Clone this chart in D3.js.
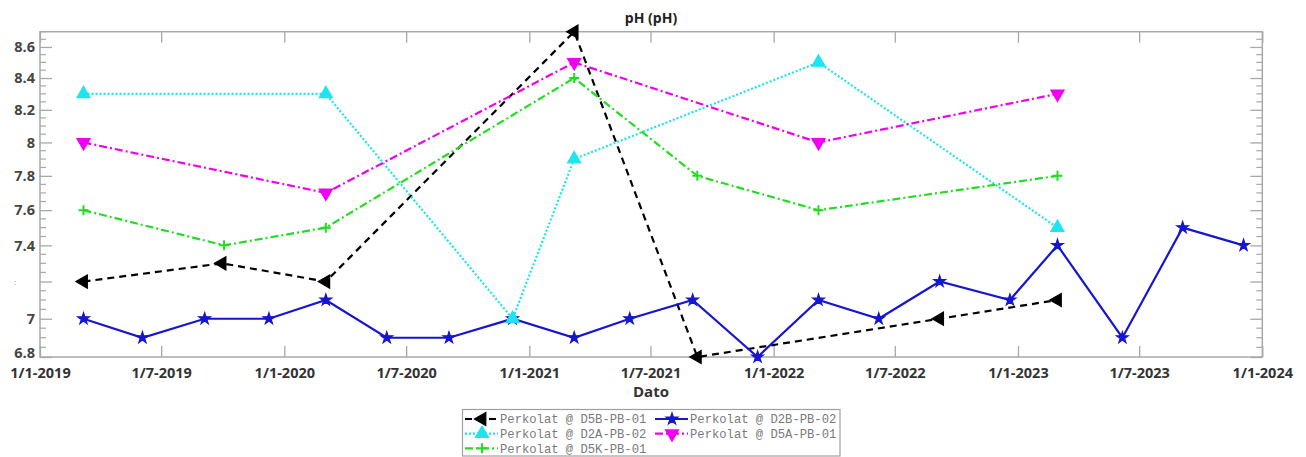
<!DOCTYPE html>
<html>
<head>
<meta charset="utf-8">
<script src="https://cdn.jsdelivr.net/npm/d3@7"></script>
<style>
    body { margin: 0; background: #fff; }
    svg { display: block; }
</style>
</head>
<body>
<svg width="1306" height="457"></svg>
<script>
// data
const xTickLabels = ['1/1-2019', '1/7-2019', '1/1-2020', '1/7-2020', '1/1-2021', '1/7-2021',
    '1/1-2022', '1/7-2022', '1/1-2023', '1/7-2023', '1/1-2024'];
const yTickValues = [6.8, 7.0, 7.2, 7.4, 7.6, 7.8, 8.0, 8.2, 8.4, 8.6];
const yTickLabels = ['6.8', '7', ':', '7.4', '7.6', '7.8', '8', '8.2', '8.4', '8.6'];

const d5bDates = ['2019-03-07', '2019-09-30', '2020-03-03', '2021-03-09', '2021-09-09', '2022-09-06', '2023-03-01'];
const d5bValues = [7.2, 7.3, 7.2, 8.7, 6.8, 7.0, 7.1];

const d2bDates = ['2019-03-07', '2019-06-03', '2019-09-04', '2019-12-09', '2020-03-03', '2020-06-02',
    '2020-09-03', '2020-12-07', '2021-03-09', '2021-05-31', '2021-09-02', '2021-12-08', '2022-03-09',
    '2022-06-07', '2022-09-06', '2022-12-20', '2023-03-01', '2023-06-06', '2023-09-04', '2023-12-04'];
const d2bValues = [7.0, 6.9, 7.0, 7.0, 7.1, 6.9, 6.9, 7.0, 6.9, 7.0, 7.1, 6.8, 7.1, 7.0, 7.2, 7.1, 7.4, 6.9, 7.5, 7.4];

const d2aDates = ['2019-03-07', '2020-03-03', '2020-12-07', '2021-03-09', '2022-03-09', '2023-03-01'];
const d2aValues = [8.3, 8.3, 7.0, 7.9, 8.5, 7.5];

const d5aDates = ['2019-03-07', '2020-03-03', '2021-03-09', '2022-03-09', '2023-03-01'];
const d5aValues = [8.0, 7.7, 8.5, 8.0, 8.3];

const d5kDates = ['2019-03-07', '2019-10-03', '2020-03-03', '2021-03-09', '2021-09-09', '2022-03-09', '2023-03-01'];
const d5kValues = [7.6, 7.4, 7.5, 8.4, 7.8, 7.6, 7.8];

const parse = d3.utcParse('%Y-%m-%d');
const zip = (dates, values) => dates.map((d, i) => ({ date: parse(d), value: values[i] }));

// plot order = legend order
const series = [
    { name: 'Perkolat @ D5B-PB-01', data: zip(d5bDates, d5bValues), color: '#000000', dash: '7,5', marker: 'left' },
    { name: 'Perkolat @ D2B-PB-02', data: zip(d2bDates, d2bValues), color: '#1616d0', dash: null, marker: 'star' },
    { name: 'Perkolat @ D2A-PB-02', data: zip(d2aDates, d2aValues), color: '#1ee4ef', dash: '2,2', marker: 'up' },
    { name: 'Perkolat @ D5A-PB-01', data: zip(d5aDates, d5aValues), color: '#f000f0', dash: '8,3,2,3', marker: 'down' },
    { name: 'Perkolat @ D5K-PB-01', data: zip(d5kDates, d5kValues), color: '#22dd22', dash: '8,3,2,3', marker: 'plus' },
];

const svg = d3.select('svg');
const plotLeft = 40, plotRight = 1262.3, plotTop = 31.7, plotBottom = 357;
const axisColor = '#a8a8a8';
const labelFont = "'Open Sans', sans-serif";

const x = d3.scaleUtc()
    .domain([parse('2019-01-01'), parse('2024-01-01')])
    .range([plotLeft, plotRight]);

const y = d3.scaleLog()
    .domain([6.8, 8.7])
    .range([plotBottom, plotTop]);

const xTickDates = d3.utcMonth.every(6).range(parse('2019-01-01'), parse('2024-01-02'));

// title
svg.append('text')
    .attr('x', 651).attr('y', 23)
    .attr('text-anchor', 'middle')
    .attr('font-family', labelFont)
    .attr('font-weight', 'bold')
    .attr('font-size', 14)
    .attr('fill', '#222')
    .text('pH (pH)');

// box
svg.append('rect')
    .attr('x', plotLeft).attr('y', plotTop)
    .attr('width', plotRight - plotLeft).attr('height', plotBottom - plotTop)
    .attr('fill', 'none')
    .attr('stroke', axisColor)
    .attr('stroke-width', 1.5);

// x ticks, inward at bottom and top
const xAxis = svg.append('g')
    .attr('transform', `translate(0,${plotBottom})`)
    .call(d3.axisBottom(x).tickValues(xTickDates).tickSize(-11).tickPadding(10.5)
        .tickFormat((d, i) => xTickLabels[i]));
xAxis.select('.domain').remove();
xAxis.selectAll('line').attr('stroke', axisColor).attr('stroke-width', 1.3);
xAxis.selectAll('text')
    .attr('font-family', labelFont)
    .attr('font-weight', 'bold')
    .attr('font-size', 14.5)
    .attr('fill', '#333');

const xTop = svg.append('g')
    .attr('transform', `translate(0,${plotTop})`)
    .call(d3.axisTop(x).tickValues(xTickDates).tickSize(-11).tickFormat(''));
xTop.select('.domain').remove();
xTop.selectAll('line').attr('stroke', axisColor).attr('stroke-width', 1.3);

// y ticks: major labelled, minor every 0.05, both sides
const yMinor = d3.range(6.8, 8.701, 0.05).map(v => +v.toFixed(2))
    .filter(v => !yTickValues.some(t => Math.abs(t - v) < 1e-6));

const yLeft = svg.append('g')
    .attr('transform', `translate(${plotLeft},0)`)
    .call(d3.axisLeft(y).tickValues(yTickValues).tickSize(-12).tickPadding(5)
        .tickFormat((d, i) => yTickLabels[i]));
yLeft.select('.domain').remove();
yLeft.selectAll('line').attr('stroke', axisColor).attr('stroke-width', 1.3);
yLeft.selectAll('text')
    .attr('font-family', labelFont)
    .attr('font-weight', 'bold')
    .attr('font-size', 14.5)
    .attr('fill', '#444');
// bottom label sits a touch higher so it clears the date labels
yLeft.selectAll('text')
    .filter((d, i) => i === 0)
    .attr('y', -4);
yLeft.selectAll('text')
    .filter((d, i) => yTickLabels[i] === ':')
    .attr('font-size', 8)
    .attr('font-weight', 'normal')
    .attr('fill', '#888')
    .attr('x', -24);

const yRight = svg.append('g')
    .attr('transform', `translate(${plotRight},0)`)
    .call(d3.axisRight(y).tickValues(yTickValues).tickSize(-12).tickFormat(''));
yRight.select('.domain').remove();
yRight.selectAll('line').attr('stroke', axisColor).attr('stroke-width', 1.3);

svg.append('g').selectAll('line')
    .data(yMinor)
    .join('line')
    .attr('x1', plotLeft).attr('x2', plotLeft + 6)
    .attr('y1', d => y(d)).attr('y2', d => y(d))
    .attr('stroke', axisColor).attr('stroke-width', 1.2);
svg.append('g').selectAll('line')
    .data(yMinor)
    .join('line')
    .attr('x1', plotRight - 6).attr('x2', plotRight)
    .attr('y1', d => y(d)).attr('y2', d => y(d))
    .attr('stroke', axisColor).attr('stroke-width', 1.2);

// x label
svg.append('text')
    .attr('x', 651).attr('y', 397)
    .attr('text-anchor', 'middle')
    .attr('font-family', labelFont)
    .attr('font-weight', 'bold')
    .attr('font-size', 15)
    .attr('fill', '#333')
    .text('Dato');

// marker helper
function drawMarker(g, type, color) {
    if (type === 'plus') {
        g.append('path')
            .attr('d', 'M-5,0H5M0,-5V5')
            .attr('stroke', color)
            .attr('stroke-width', 2)
            .attr('fill', 'none');
        return;
    }
    let sym = d3.symbolTriangle, size = 75, rot = 0;
    if (type === 'left') rot = -90;
    if (type === 'down') rot = 180;
    if (type === 'star') { sym = d3.symbolStar; size = 42; }
    g.append('path')
        .attr('d', d3.symbol().type(sym).size(size)())
        .attr('transform', `rotate(${rot})`)
        .attr('fill', color)
        .attr('stroke', color)
        .attr('stroke-width', 1.2);
}

const line = d3.line()
    .x(d => x(d.date))
    .y(d => y(d.value));

series.forEach(s => {
    const g = svg.append('g');
    g.append('path')
        .datum(s.data)
        .attr('d', line)
        .attr('fill', 'none')
        .attr('stroke', s.color)
        .attr('stroke-width', 2.2)
        .attr('stroke-dasharray', s.dash);

    g.selectAll('g.pt')
        .data(s.data)
        .join('g')
        .attr('class', 'pt')
        .attr('transform', d => `translate(${x(d.date)},${y(d.value)})`)
        .each(function () { drawMarker(d3.select(this), s.marker, s.color); });
});

// legend, two columns filled row by row
const legend = svg.append('g');
legend.append('rect')
    .attr('x', 462.5).attr('y', 409.5)
    .attr('width', 377.5).attr('height', 46.5)
    .attr('fill', '#fff')
    .attr('stroke', '#a0a0a0')
    .attr('stroke-width', 1.2);

const colX = [465, 655];
const rowY = [419, 433.7, 448.3];

series.forEach((s, i) => {
    const cx = colX[i % 2];
    const cy = rowY[Math.floor(i / 2)];
    const item = legend.append('g');
    item.append('line')
        .attr('x1', cx).attr('x2', cx + 33)
        .attr('y1', cy).attr('y2', cy)
        .attr('stroke', s.color)
        .attr('stroke-width', 2.2)
        .attr('stroke-dasharray', s.dash);
    drawMarker(item.append('g').attr('transform', `translate(${cx + 17},${cy})`), s.marker, s.color);
    item.append('text')
        .attr('x', cx + 35).attr('y', cy)
        .attr('dy', '0.35em')
        .attr('font-family', "'Liberation Mono', 'Courier New', monospace")
        .attr('font-size', 12.2)
        .attr('fill', '#7a7a7a')
        .text(s.name);
});
</script>
</body>
</html>
